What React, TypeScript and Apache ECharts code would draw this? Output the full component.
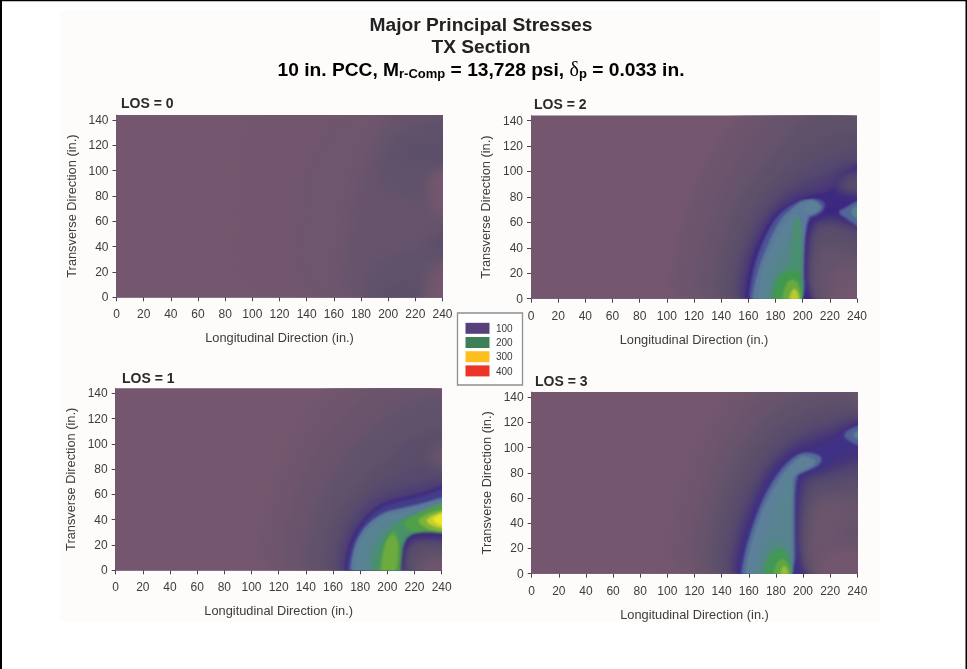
import React, { useEffect, useRef } from "react";
import * as echarts from "echarts";

type Band = [number, number[][]];

const xTicks = [0, 20, 40, 60, 80, 100, 120, 140, 160, 180, 200, 220, 240];
const yTicks = [0, 20, 40, 60, 80, 100, 120, 140];
const legendValues = ["100", "200", "300", "400"];
const legendColors = ["#57407c", "#3d8058", "#fdbf1f", "#ea3426"];
const panelTitles = ["LOS = 0", "LOS = 2", "LOS = 1", "LOS = 3"];

const colorStops: [number, number[]][] = [
  [20, [116, 87, 110]], [30, [112, 86, 109]], [40, [103, 84, 108]], [50, [93, 80, 106]],
  [60, [88, 76, 108]], [70, [82, 70, 112]], [85, [70, 52, 121]], [96, [59, 38, 130]],
  [105, [78, 90, 149]], [120, [94, 127, 156]], [150, [79, 138, 128]], [180, [64, 153, 79]],
  [210, [112, 172, 62]], [240, [198, 208, 48]], [260, [245, 234, 32]],
];

const los0Bands: Band[] = [
  [26, [[85,-10],[88,80],[92,154],[250,154],[250,-10]]],
  [32, [[135,-10],[132,60],[140,110],[165,154],[250,154],[250,-10]]],
  [40, [[165,-10],[170,50],[180,100],[195,130],[205,154],[250,154],[250,-10]]],
  [46, [[190,85],[195,120],[215,140],[250,146],[250,85],[220,75]]],
  [46, [[180,-10],[183,20],[200,37],[222,40],[240,55],[250,55],[250,30],[228,-10]]],
  [50, [[205,105],[210,122],[228,130],[250,128],[250,105]]],
  [52, [[190,-10],[195,8],[210,14],[220,8],[224,-10]]],
  [30, [[250,105],[232,100],[228,85],[232,65],[250,60]]],
  [22, [[250,100],[236,98],[233,85],[236,70],[250,65]]],
  [30, [[225,-10],[228,15],[235,28],[250,30],[250,-10]]],
  [23, [[232,-10],[233,15],[250,22],[250,-10]]],
  [52, [[250,55],[234,48],[230,42],[240,35],[250,32]]],
];

const los1Bands: Band[] = [
  [30, [[98,-10],[108,50],[128,110],[160,154],[250,154],[250,-10]]],
  [38, [[118,-10],[125,40],[140,85],[160,115],[195,154],[250,154],[250,-10]]],
  [46, [[135,-10],[142,35],[157,70],[177,100],[215,135],[250,140],[250,-10]]],
  [54, [[150,-10],[155,28],[168,55],[190,80],[215,105],[250,115],[250,-10]]],
  [64, [[160,-10],[163,25],[172,45],[190,66],[215,80],[250,88],[250,-10]]],
  [76, [[163,-10],[166,20],[175,40],[190,58],[215,66],[250,75],[250,-10]]],
  [90, [[167,-10],[170,18],[178,36],[192,52],[210,58],[228,62],[250,72],[250,-10]]],
  [50, [[250,108],[235,106],[227,95],[230,80],[250,76]]],
  [38, [[250,102],[238,100],[232,90],[236,82],[250,82]]],
  [100, [[168.5,-10],[172,16],[180,34],[193,49],[207,54],[224,58],[250,68],[250,-10]]],
  [118, [[171,-10],[175,20],[184,36],[197,46],[209,49],[226,53],[250,61],[250,-10]]],
  [130, [[174,-10],[178,20],[188,35],[199,43],[211,46],[226,49],[250,58],[250,-10]]],
  [145, [[183,-10],[186,18],[195,32],[205,39],[214,43],[228,46],[250,55],[250,-10]]],
  [165, [[188,-10],[191,15],[200,31],[208,38],[214,42],[228,46],[250,54],[250,-10]]],
  [190, [[192,-10],[195,10],[200,26],[207,36],[213,-10]]],
  [208, [[195,-6],[197,18],[203,30],[208,24],[208,6],[204,-6]]],
  [190, [[210,38],[226,47],[240,53],[250,56],[250,26],[228,27],[215,32]]],
  [215, [[220,39],[232,46],[250,50],[250,29],[232,31]]],
  [240, [[226,39],[238,46],[250,48],[250,32],[238,33]]],
  [258, [[232,40],[240,45],[250,46],[250,34],[240,35]]],
  [96, [[209.5,-10],[211,10],[212,20],[216,28],[228,30.5],[250,28],[250,-10]]],
  [80, [[211.5,-10],[212.5,15],[216,25],[228,27],[250,25],[250,-10]]],
  [65, [[213,-10],[214,14],[218,23],[240,23],[250,21],[250,-10]]],
  [50, [[214.5,-10],[216,16],[226,21],[250,18],[250,-10]]],
  [36, [[220,-10],[223,8],[240,13],[250,11],[250,-10]]],
  [26, [[228,-10],[235,5],[250,3],[250,-10]]],
];

const los2Bands: Band[] = [
  [33, [[100,-10],[106,40],[118,85],[138,125],[158,154],[250,154],[250,-10]]],
  [40, [[118,-10],[124,40],[136,80],[155,115],[178,154],[250,154],[250,-10]]],
  [48, [[132,-10],[137,35],[148,70],[165,100],[190,130],[208,154],[250,154],[250,-10]]],
  [56, [[142,-10],[146,30],[156,60],[171,88],[195,112],[222,130],[250,135],[250,-10]]],
  [64, [[148,-10],[151,28],[160,55],[175,80],[198,100],[225,115],[250,122],[250,-10]]],
  [74, [[152,-10],[155,25],[163,48],[176,72],[196,90],[222,102],[250,115],[250,-10]]],
  [84, [[154,-10],[157,22],[165,46],[177,68],[193,82],[222,90],[250,110],[250,-10]]],
  [94, [[156,-10],[160,22],[167,44],[178,66],[192,76],[204,81],[222,84],[232,100],[250,112],[250,-10]]],
  [82, [[250,105],[230,102],[222,92],[224,82],[250,78]]],
  [70, [[250,100],[232,98],[226,90],[230,84],[250,82]]],
  [60, [[250,97],[234,94],[231,90],[234,86],[250,86]]],
  [96, [[216,72],[222,71],[232,73],[250,77],[250,40],[216,50]]],
  [104, [[159,-10],[163,22],[170,44],[180,64],[190,73],[200,78],[213,79],[218,73],[208,60],[202,-10]]],
  [118, [[161,-10],[166,20],[174,42],[183,62],[192,71],[200,78],[209,77],[216,72],[209,66],[202,64],[201,-10]]],
  [128, [[165,-10],[170,22],[178,42],[187,60],[194,68],[198,64],[199,40],[200,-10]]],
  [124, [[201,75],[207,79],[214,73],[207,66],[201,68]]],
  [140, [[172,-10],[175,16],[183,32],[192,50],[194,66],[199,64],[199.5,30],[200.5,-10]]],
  [160, [[175,-10],[179,18],[191,26],[192,42],[194,64],[199,62],[199.5,30],[200.5,-10]]],
  [180, [[176,-10],[181,17],[192,24],[199,20],[200.5,-10]]],
  [205, [[183,-10],[187,12],[193,16],[198,11],[199.5,-10]]],
  [235, [[188,-10],[192,9],[197,6],[199,-10]]],
  [255, [[191,-10],[194,4],[198,-10]]],
  [96, [[201,-10],[202,62],[212,66],[222,69],[232,66],[250,58],[250,-10]]],
  [80, [[203.5,-10],[204,60],[214,63],[222,66],[232,61],[250,54],[250,-10]]],
  [65, [[205,-10],[205.5,57],[222,61],[250,49],[250,-10]]],
  [52, [[206.5,-10],[207,53],[222,56],[250,43],[250,-10]]],
  [42, [[209,-10],[210,40],[225,42],[250,30],[250,-10]]],
  [32, [[218,-10],[222,22],[232,27],[250,20],[250,-10]]],
  [24, [[226,-10],[230,14],[250,12],[250,-10]]],
  [110, [[250,80],[240,77],[232,72],[225,68],[232,63],[240,57],[250,52]]],
  [130, [[250,78],[231,68],[250,58]]],
  [150, [[250,74],[234,67],[250,60]]],
];

const los3Bands: Band[] = [
  [30, [[95,-10],[102,50],[120,105],[150,154],[250,154],[250,-10]]],
  [38, [[112,-10],[118,45],[132,90],[155,130],[180,154],[250,154],[250,-10]]],
  [46, [[125,-10],[130,40],[143,85],[165,120],[195,145],[250,150],[250,-10]]],
  [54, [[133,-10],[138,35],[150,75],[172,112],[205,132],[250,140],[250,-10]]],
  [64, [[140,-10],[144,30],[156,68],[175,100],[205,122],[250,130],[250,-10]]],
  [76, [[145,-10],[149,26],[160,60],[176,90],[198,110],[222,118],[250,128],[250,-10]]],
  [88, [[148,-10],[152,22],[162,52],[175,82],[192,100],[215,108],[235,118],[250,125],[250,-10]]],
  [98, [[150,-10],[154,18],[162,45],[170,66],[181,85],[193,94],[208,99],[222,104],[232,116],[250,122],[250,-10]]],
  [112, [[153,-10],[157,18],[165,45],[172,63],[181,79],[190,90],[200,97],[214,94],[213,86],[200,80],[195,78],[194,50],[195,-10]]],
  [122, [[156,-10],[160,18],[168,45],[175,62],[183,76],[191,87],[200,93],[210,91],[208,85],[197,80],[192,76],[192,50],[193,-10]]],
  [132, [[162,-10],[166,15],[175,40],[183,62],[188,78],[193,75],[192,50],[193,-10]]],
  [145, [[166,-10],[169,14],[176,24],[183,28],[191,22],[193,-10]]],
  [175, [[170,-10],[173,15],[184,22],[190,14],[193,-10]]],
  [200, [[176,-10],[180,9],[185.5,13],[190,6],[192,-10]]],
  [225, [[181,-10],[185,8],[189,3],[191,-10]]],
  [125, [[195,90],[201,94],[207,89],[201,83],[195,85]]],
  [85, [[196,-10],[196.5,40],[196.5,76],[205,79],[214,83],[225,90],[240,100],[250,101],[250,-10]]],
  [72, [[197.5,-10],[198,76],[213,78],[228,85],[250,92],[250,-10]]],
  [58, [[199,-10],[200,72],[220,75],[250,82],[250,-10]]],
  [46, [[201,-10],[202,62],[225,67],[250,72],[250,-10]]],
  [36, [[205,-10],[206,55],[225,60],[240,55],[250,45],[250,-10]]],
  [26, [[212,-10],[214,15],[232,20],[250,15],[250,-10]]],
  [42, [[250,50],[232,42],[225,30],[238,24],[250,26]]],
  [108, [[250,119],[238,117],[228,110],[238,102],[250,100]]],
  [124, [[250,117],[233,110],[250,103]]],
];

const panelBands = [los0Bands, los2Bands, los1Bands, los3Bands];

function levelColor(v: number) {
  let i = 0;
  while (i < colorStops.length - 2 && v > colorStops[i + 1][0]) i++;
  const [a, ca] = colorStops[i];
  const [b, cb] = colorStops[i + 1];
  const t = Math.max(0, Math.min(1, (v - a) / (b - a)));
  const c = ca.map((k, j) => Math.round(k + (cb[j] - k) * t));
  return `rgb(${c[0]},${c[1]},${c[2]})`;
}

function levelBlur(v: number) {
  if (v < 60) return 5;
  if (v < 90) return 3;
  if (v < 100) return 1.3;
  return 1.1;
}

function cutCorners(points: number[][], rounds: number) {
  let pts = points;
  for (let r = 0; r < rounds; r++) {
    const next: number[][] = [];
    pts.forEach((p, i) => {
      const q = pts[(i + 1) % pts.length];
      next.push([p[0] * 0.75 + q[0] * 0.25, p[1] * 0.75 + q[1] * 0.25]);
      next.push([p[0] * 0.25 + q[0] * 0.75, p[1] * 0.25 + q[1] * 0.75]);
    });
    pts = next;
  }
  return pts;
}

const FONT = "'Liberation Sans', Arial, sans-serif";
const TEXT = "#3c3c3c";
const grids = [
  { left: 116.5, top: 115, width: 326, height: 182.3 },
  { left: 531, top: 115.5, width: 326, height: 183.2 },
  { left: 115.7, top: 388.3, width: 326, height: 182 },
  { left: 531.7, top: 392, width: 325.6, height: 181.7 },
];
const titlePos = [[121, 96], [534, 97], [122, 371], [535, 374]];

export default function App() {
  const ref = useRef<HTMLDivElement>(null);
  useEffect(() => {
    const chart = echarts.init(ref.current!, undefined, { renderer: "svg" });
    const blurByFill = new Map<string, number>();
    const xAxis = grids.map((_, i) => ({
      type: "value", gridIndex: i, min: 0, max: 240, interval: 20,
      name: "Longitudinal Direction (in.)", nameLocation: "middle", nameGap: 34,
      nameTextStyle: { fontFamily: FONT, fontSize: 12.8, color: TEXT },
      splitLine: { show: false },
      axisLine: { show: true, onZero: false, lineStyle: { color: "#8a7f90", width: 1 } },
      axisTick: { show: true, length: 4, customValues: xTicks, lineStyle: { color: "#444" } },
      axisLabel: { fontFamily: FONT, fontSize: 12, color: TEXT, margin: 11, customValues: xTicks },
    }));
    const yAxis = grids.map((_, i) => ({
      type: "value", gridIndex: i, min: 0, max: 144, interval: 20,
      name: "Transverse Direction (in.)", nameLocation: "middle", nameGap: 39,
      nameTextStyle: { fontFamily: FONT, fontSize: 12.8, color: TEXT },
      splitLine: { show: false },
      axisLine: { show: true, onZero: false, lineStyle: { color: "#8a7f90", width: 1 } },
      axisTick: { show: true, length: 4, customValues: yTicks, lineStyle: { color: "#444" } },
      axisLabel: { fontFamily: FONT, fontSize: 12, color: TEXT, margin: 8, customValues: yTicks },
    }));
    const series = panelBands.map((bands, i) => ({
      type: "custom",
      xAxisIndex: i,
      yAxisIndex: i,
      clip: true,
      silent: true,
      z: 1,
      data: [[0, 0, 20], ...bands.map((b) => [b[1][0][0], b[1][0][1], b[0]])],
      renderItem: (params: any, api: any) => {
        if (params.dataIndex === 0) {
          const p0 = api.coord([-30, 174]);
          const p1 = api.coord([270, -30]);
          return {
            type: "rect",
            shape: { x: p0[0], y: p0[1], width: p1[0] - p0[0], height: p1[1] - p0[1] },
            style: { fill: levelColor(20) },
          };
        }
        const band = bands[params.dataIndex - 1];
        const fill = levelColor(band[0]);
        blurByFill.set(fill, levelBlur(band[0]));
        return {
          type: "polygon",
          shape: { points: cutCorners(band[1].map((p) => api.coord(p)), 2) },
          style: { fill },
        };
      },
    }));
    const legendEls: any[] = [
      { type: "rect", shape: { x: 457.5, y: 313, width: 65, height: 72 }, style: { fill: "#fff", stroke: "#8f8f8f", lineWidth: 1.3 } },
    ];
    legendValues.forEach((v, i) => {
      legendEls.push({
        type: "rect",
        shape: { x: 465.5, y: 322.8 + i * 14.2, width: 24, height: 11 },
        style: { fill: legendColors[i] },
      });
      legendEls.push({
        type: "text", x: 496, y: 328.5 + i * 14.2,
        style: { text: v, fontFamily: FONT, fontSize: 10, fill: TEXT, verticalAlign: "middle" },
      });
    });
    const mainRich = {
      m: { fontFamily: FONT, fontSize: 19.2, fontWeight: "bold", color: "#222", lineHeight: 24 },
      s: { fontFamily: FONT, fontSize: 13, fontWeight: "bold", color: "#222", lineHeight: 24, padding: [9, 0, 0, 0] },
      g: { fontFamily: "'Liberation Serif', serif", fontSize: 20, fontWeight: "normal", color: "#222", lineHeight: 24 },
    };
    chart.setOption({
      animation: false,
      backgroundColor: "#ffffff",
      grid: grids,
      xAxis,
      yAxis,
      series,
      title: panelTitles.map((t, i) => ({
        text: t, left: titlePos[i][0], top: titlePos[i][1], padding: 0,
        textStyle: { fontFamily: FONT, fontSize: 14, fontWeight: "bold", color: "#2a2a2a" },
      })),
      graphic: [
        { type: "rect", z: -10, silent: true, shape: { x: 60, y: 10, width: 820, height: 612 }, style: { fill: "#fdfcfa" } },
        { type: "rect", z: 10, silent: true, shape: { x: 0, y: 0, width: 967, height: 1.2 }, style: { fill: "#000" } },
        { type: "rect", z: 10, silent: true, shape: { x: 0, y: 0, width: 2, height: 669 }, style: { fill: "#000" } },
        { type: "rect", z: 10, silent: true, shape: { x: 965.5, y: 0, width: 1.5, height: 669 }, style: { fill: "#000" } },
        { type: "text", x: 481, y: 24, style: { text: "Major Principal Stresses", fontFamily: FONT, fontSize: 19.2, fontWeight: "bold", fill: "#222", align: "center", verticalAlign: "middle" } },
        { type: "text", x: 481, y: 46, style: { text: "TX Section", fontFamily: FONT, fontSize: 19.2, fontWeight: "bold", fill: "#222", align: "center", verticalAlign: "middle" } },
        {
          type: "text", x: 481, y: 69,
          style: {
            text: "{m|10 in. PCC, M}{s|r-Comp}{m| = 13,728 psi, }{g|δ}{s|p}{m| = 0.033 in.}",
            rich: mainRich, align: "center", verticalAlign: "middle",
          },
        },
        ...legendEls,
      ],
    });
    const root = ref.current!;
    root.querySelectorAll("g[clip-path] path").forEach((el: any) => {
      const sigma = blurByFill.get(el.getAttribute("fill") || "");
      if (sigma) el.style.filter = `blur(${sigma}px)`;
    });
    return () => chart.dispose();
  }, []);
  return (
    <div style={{ position: "fixed", left: 0, top: 0, width: 967, height: 669, background: "#fff", filter: "blur(0.5px)" }}>
      <div ref={ref} style={{ width: 967, height: 669 }} />
    </div>
  );
}
